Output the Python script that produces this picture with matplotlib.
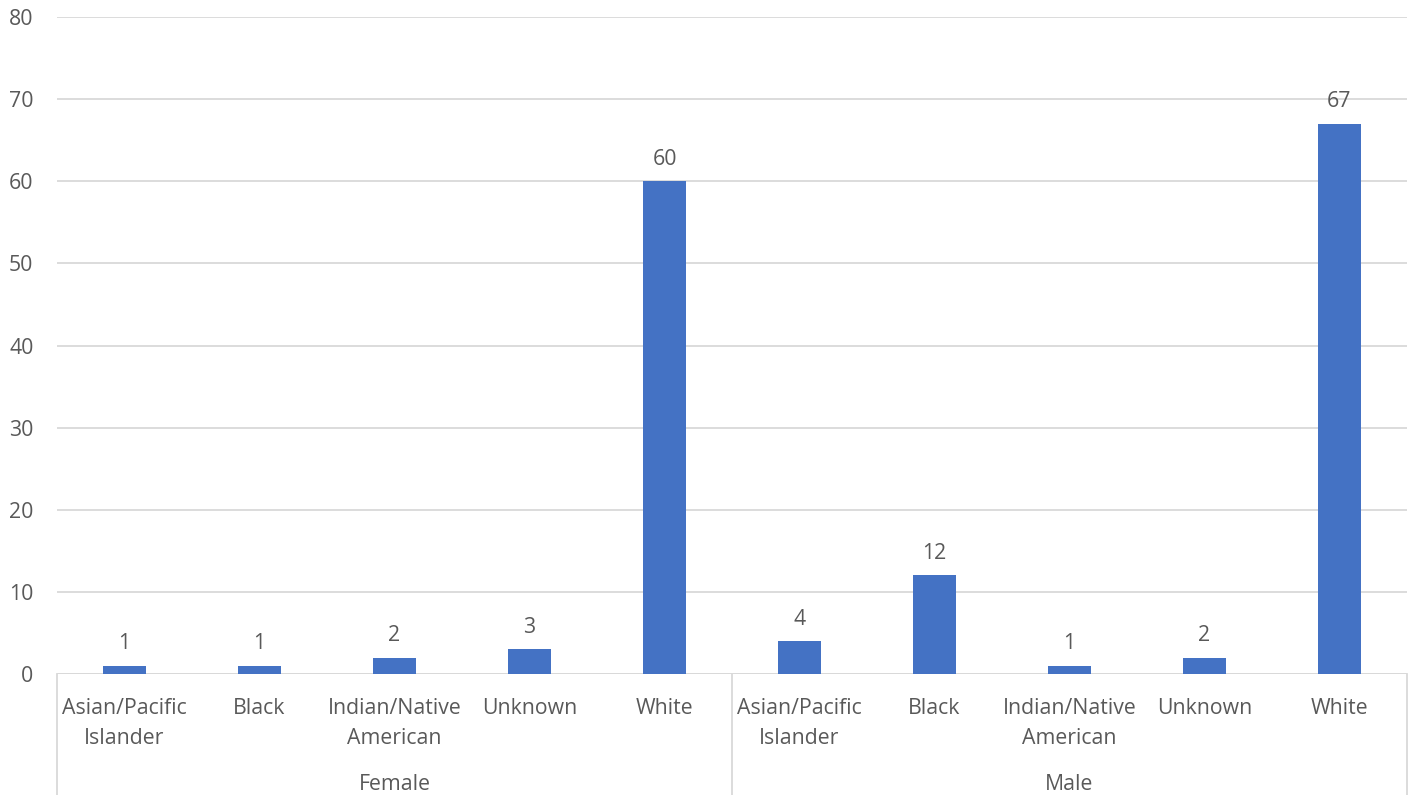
import matplotlib
matplotlib.use("Agg")
import matplotlib.pyplot as plt
from matplotlib.lines import Line2D

groups = ["Female", "Male"]
categories = ["Asian/Pacific\nIslander", "Black", "Indian/Native\nAmerican", "Unknown", "White"]
female_values = [1, 1, 2, 3, 60]
male_values = [4, 12, 1, 2, 67]
y_ticks = [0, 10, 20, 30, 40, 50, 60, 70, 80]

plt.rcParams['font.family'] = ['Open Sans', 'DejaVu Sans']
text_color = "#595959"
bar_color = "#4472C4"
grid_color = "#D9D9D9"
fs = 15.3

W, H = 1415, 795
fig = plt.figure(figsize=(W / 100, H / 100), dpi=100)
left, right, zero_y, top_y = 57, 1407, 674, 17
ax = fig.add_axes([left / W, (H - zero_y) / H, (right - left) / W, (zero_y - top_y) / H])

values = female_values + male_values
labels = categories + categories
n = len(values)
xs = list(range(n))
ax.bar(xs, values, width=0.32, color=bar_color, zorder=3)
ax.set_xlim(-0.5, n - 0.5)
ax.set_ylim(0, 80)
ax.set_yticks(y_ticks)
ax.yaxis.grid(True, color=grid_color, linewidth=1.3, zorder=0)
for s in ax.spines.values():
    s.set_visible(False)
ax.tick_params(axis='y', length=0, pad=17, labelsize=fs, labelcolor=text_color)
ax.set_xticks([])

for x, v in zip(xs, values):
    ax.annotate(str(v), (x, v), xytext=(0, 15.8), textcoords='offset points',
                ha='center', va='center', fontsize=fs, color=text_color)

# baseline
ax.axhline(0, color=grid_color, linewidth=1.3, zorder=2)

# category labels (one text per line, 30 px apart)
line_y = [708, 738]
for x, lab in zip(xs, labels):
    xf = (left + (x + 0.5) * (right - left) / n) / W
    for j, part in enumerate(lab.split("\n")):
        fig.text(xf, (H - line_y[j]) / H, part, ha='center', va='center',
                 fontsize=fs, color=text_color)

# group labels
gsize = len(categories)
for i, g in enumerate(groups):
    cx = i * gsize + (gsize - 1) / 2
    fig.text((left + (cx + 0.5) * (right - left) / n) / W, (H - 784) / H, g,
             ha='center', va='center', fontsize=fs, color=text_color)

# separators
for k in range(len(groups) + 1):
    xpix = left + k * gsize * (right - left) / n
    fig.add_artist(Line2D([xpix / W, xpix / W], [0, (H - zero_y) / H],
                          transform=fig.transFigure, color=grid_color, linewidth=1.3))

fig.savefig("out.png", dpi=100, facecolor="white")
